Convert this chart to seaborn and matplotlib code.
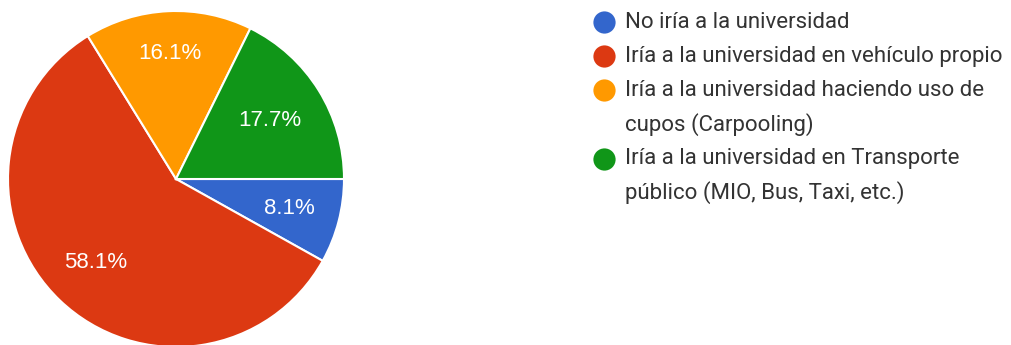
import matplotlib.pyplot as plt
import seaborn as sns
import numpy as np

categories = [
    "No iría a la universidad",
    "Iría a la universidad en vehículo propio",
    "Iría a la universidad haciendo uso de\ncupos (Carpooling)",
    "Iría a la universidad en Transporte\npúblico (MIO, Bus, Taxi, etc.)",
]
shares = [8.1, 58.1, 16.1, 17.7]
colors = ["#3366CC", "#DC3912", "#FF9900", "#109618"]
label_dist = [0.70, 0.69, 0.75, 0.66]

sns.set_style("white")
plt.rcParams['font.family'] = ['Liberation Sans', 'DejaVu Sans']

W, H = 1011, 345
fig = plt.figure(figsize=(W / 100, H / 100), dpi=100)
ax = fig.add_axes([0, 0, 1, 1])

cx, cy, r = 176, H - 179, 168
wedges, _ = ax.pie(
    shares, colors=colors, startangle=0, counterclock=False,
    center=(cx, cy), radius=r, frame=True,
    wedgeprops=dict(edgecolor='white', linewidth=1.5),
)
ax.set_xlim(0, W)
ax.set_ylim(0, H)
ax.set_aspect('equal')
ax.axis('off')

# percentage labels, placed along each wedge's mid angle
for w, v, d in zip(wedges, shares, label_dist):
    ang = np.deg2rad((w.theta1 + w.theta2) / 2)
    ax.text(cx + d * r * np.cos(ang), cy + d * r * np.sin(ang), f"{v:.1f}%",
            color='white', fontsize=16, ha='center', va='center')

# legend drawn by hand so wrapped lines line up like the original
line_h = 34.2
y = H - 22
for cat, col in zip(categories, colors):
    ax.scatter([604], [y], s=256, color=col, marker='o', linewidths=0)
    for ln in cat.split("\n"):
        ax.text(625, y, ln, fontsize=16, color='#333333', va='center', ha='left',
                family=['Roboto', 'DejaVu Sans'])
        y -= line_h

fig.savefig("out.png", dpi=100)
